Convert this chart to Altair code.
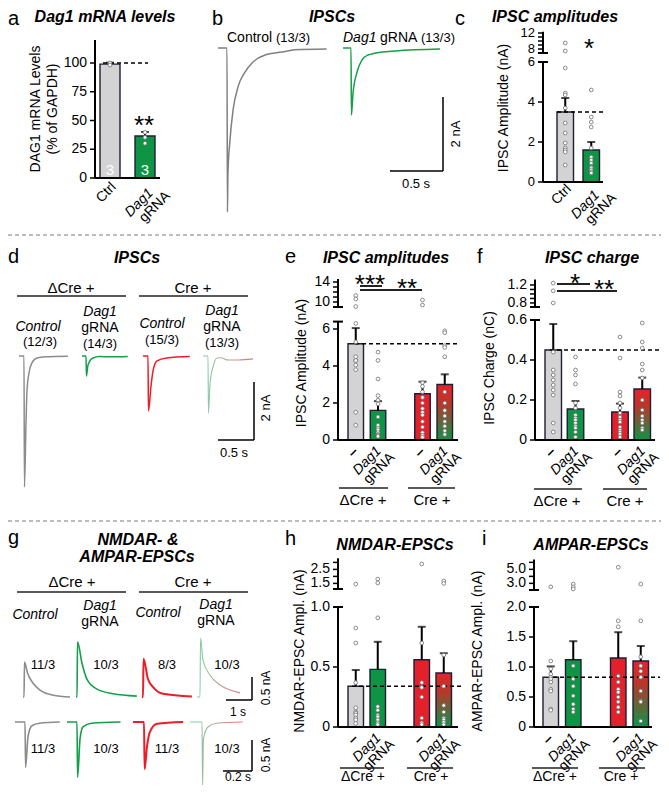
import altair as alt
import pandas as pd

FONT = "Liberation Sans"
ONE = pd.DataFrame({"k": [0]})
G = 8  # page margin: page coordinate -> plot coordinate

GRAY_FILL = "#d3d3d3"
GREEN_FILL = "#0e9445"
RED_FILL = "#e4202a"
EDGE = "#1e1e36"
TR_GRAY = "#8c8c8c"
TR_GREEN = "#13a049"
TR_RED = "#ee1c25"
PT_EDGE = "#707070"

# ---------------- values ----------------
# (a) Dag1 mRNA levels (% of GAPDH)
a_cats = ["Ctrl", "Dag1 gRNA"]
a_mean = [99.0, 36.5]
a_sem_top = [100.3, 40.0]
a_pts_ctrl = [99.0, 100.0, 98.2]
a_pts_grna = [39.7, 35.3, 30.2]
a_n = ["3", "3"]
a_ticks = [0, 25, 50, 75, 100]
a_tick_labels = ["0", "25", "50", "75", "100"]

# (b) IPSC traces, time from onset (s) / current (nA)
b_ctrl_t = [-0.085, 0.0, 0.004, 0.009, 0.028, 0.057, 0.104, 0.17, 0.245, 0.36, 0.52, 0.64, 0.94]
b_ctrl_i = [0.0, 0.0, -4.43, -3.38, -2.49, -1.68, -1.05, -0.65, -0.38, -0.19, -0.11, -0.05, -0.03]
b_grna_t = [-0.075, 0.0, 0.004, 0.019, 0.057, 0.104, 0.16, 0.29, 0.42, 0.84]
b_grna_i = [0.0, 0.0, -1.81, -1.22, -0.65, -0.32, -0.19, -0.11, -0.08, -0.03]

# (c) IPSC amplitudes (nA)
c_cats = ["Ctrl", "Dag1 gRNA"]
c_mean = [3.5, 1.6]
c_sem_top = [4.2, 2.0]
c_pts_ctrl = [9.5, 7.5, 5.7, 4.45, 4.35, 3.7, 2.95, 2.45, 1.95, 1.7, 1.6, 1.5, 0.85]
c_pts_grna = [4.6, 3.25, 3.0, 2.75, 1.7, 1.25, 1.1, 0.95, 0.75, 0.7, 0.6, 0.5, 0.45]
c_ticks = [0, 2, 4, 6, 8, 9, 10, 11, 12]
c_tick_labels = ["0", "2", "4", "6", "8", "", "", "", "12"]

# (d) IPSC traces
d_gray_t = [-0.07, 0.0, 0.006, 0.028, 0.042, 0.069, 0.11, 0.18, 0.3, 0.61]
d_gray_i = [0.0, 0.0, -4.52, -2.31, -1.17, -0.59, -0.24, -0.07, -0.03, -0.01]
d_green_t = [-0.056, 0.0, 0.006, 0.028, 0.097, 0.19, 0.35, 0.58]
d_green_i = [0.0, 0.0, -0.69, -0.31, -0.07, -0.02, -0.03, -0.02]
d_red_t = [-0.07, 0.0, 0.006, 0.042, 0.069, 0.125, 0.26, 0.58]
d_red_i = [0.0, 0.0, -1.9, -1.03, -0.52, -0.17, -0.07, -0.02]
d_grad_t = [-0.07, 0.0, 0.006, 0.028, 0.069, 0.125, 0.18, 0.28, 0.42, 0.625]
d_grad_i = [0.0, 0.0, -1.97, -0.93, -0.38, -0.07, -0.06, -0.14, -0.14, -0.1]

# (g) NMDAR-EPSC traces (s, nA)
gn_gray_t = [-0.04, 0.0, 0.02, 0.135, 0.35, 0.62, 1.12, 1.77]
gn_gray_i = [0.0, 0.0, 0.76, 0.52, 0.30, 0.15, 0.04, 0.0]
gn_green_t = [-0.04, 0.0, 0.02, 0.19, 0.38, 0.77, 1.38, 2.3]
gn_green_i = [0.0, 0.0, 1.2, 0.74, 0.39, 0.17, 0.07, 0.02]
gn_red_t = [-0.04, 0.0, 0.02, 0.19, 0.38, 0.77, 1.88]
gn_red_i = [0.0, 0.0, 0.83, 0.39, 0.22, 0.07, 0.01]
gn_grad_t = [-0.115, 0.0, 0.02, 0.115, 0.38, 0.77, 1.15, 1.54]
gn_grad_i = [0.0, 0.0, 1.28, 0.8, 0.48, 0.26, 0.15, 0.09]
# (g) AMPAR-EPSC traces (s, nA)
ga_gray_t = [-0.069, 0.0, 0.004, 0.021, 0.048, 0.1, 0.24]
ga_gray_i = [0.0, 0.0, -0.73, -0.23, -0.06, -0.02, 0.0]
ga_green_t = [-0.069, 0.0, 0.004, 0.021, 0.041, 0.1, 0.3]
ga_green_i = [0.0, 0.0, -0.89, -0.27, -0.08, -0.02, 0.0]
ga_red_t = [-0.076, 0.0, 0.004, 0.021, 0.041, 0.09, 0.27]
ga_red_i = [0.0, 0.0, -0.76, -0.39, -0.16, -0.03, 0.0]
ga_grad_t = [-0.083, 0.0, 0.004, 0.01, 0.041, 0.1, 0.28]
ga_grad_i = [0.0, 0.0, -1.03, -0.27, -0.08, -0.02, 0.0]

# (e)-(i) groups: ΔCre/–, ΔCre/Dag1 gRNA, Cre/–, Cre/Dag1 gRNA
grp_cats = ["ΔCre –", "ΔCre Dag1 gRNA", "Cre –", "Cre Dag1 gRNA"]

e_mean = [5.2, 1.6, 2.5, 3.0]
e_sem_top = [6.05, 2.1, 3.15, 3.55]
e_pts = [
    [11.3, 10.6, 9.1, 6.3, 5.3, 4.5, 4.3, 4.3, 4.05, 3.8, 1.5, 0.8],
    [4.75, 4.3, 3.3, 2.4, 2.15, 1.95, 1.25, 0.8, 0.65, 0.55, 0.4, 0.3, 0.25, 0.2],
    [10.4, 9.4, 3.1, 2.9, 2.6, 2.3, 2.0, 1.7, 1.5, 1.35, 1.0, 0.7, 0.4, 0.25, 0.15],
    [5.9, 5.8, 5.1, 5.0, 4.5, 2.6, 2.0, 1.6, 1.3, 1.0, 0.75, 0.5, 0.3],
]
e_ticks = [0, 2, 4, 6, 10, 11, 12, 13, 14]
e_tick_labels = ["0", "2", "4", "6", "10", "", "", "", "14"]

f_mean = [0.45, 0.155, 0.14, 0.255]
f_sem_top = [0.58, 0.195, 0.182, 0.312]
f_pts = [
    [1.24, 1.07, 0.8, 0.44, 0.35, 0.325, 0.3, 0.275, 0.25, 0.225, 0.085, 0.04],
    [0.415, 0.35, 0.325, 0.28, 0.185, 0.16, 0.125, 0.11, 0.1, 0.085, 0.07, 0.06, 0.04, 0.015],
    [0.515, 0.41, 0.24, 0.22, 0.185, 0.16, 0.135, 0.115, 0.1, 0.09, 0.065, 0.05, 0.04, 0.03, 0.015],
    [0.585, 0.49, 0.46, 0.38, 0.35, 0.31, 0.2, 0.15, 0.12, 0.1, 0.085, 0.06, 0.05],
]
f_ticks = [0, 0.2, 0.4, 0.6, 0.8, 0.9, 1.0, 1.1, 1.2]
f_tick_labels = ["0", "0.2", "0.4", "0.6", "0.8", "", "", "", "1.2"]

h_mean = [0.34, 0.48, 0.56, 0.45]
h_sem_top = [0.475, 0.71, 0.835, 0.615]
h_pts = [
    [1.45, 0.825, 0.7, 0.37, 0.16, 0.125, 0.115, 0.1, 0.075, 0.06, 0.03],
    [1.81, 1.53, 0.91, 0.17, 0.14, 0.1, 0.085, 0.06, 0.035, 0.02],
    [2.89, 0.7, 0.37, 0.33, 0.25, 0.075, 0.035, 0.02],
    [1.67, 1.5, 0.6, 0.34, 0.18, 0.125, 0.075, 0.06, 0.04, 0.02],
]
h_ticks = [0, 0.5, 1.0, 1.5, 2.0, 2.5, 3.0]
h_tick_labels = ["0", "0.5", "1.0", "1.5", "", "2.5", ""]

i_mean = [0.83, 1.12, 1.15, 1.10]
i_sem_top = [1.01, 1.43, 1.58, 1.35]
i_pts = [
    [2.5, 1.1, 0.97, 0.88, 0.83, 0.8, 0.75, 0.63, 0.6, 0.3, 0.28],
    [2.9, 2.5, 2.2, 1.02, 0.8, 0.68, 0.52, 0.38, 0.3, 0.25],
    [5.3, 1.77, 1.67, 0.85, 0.75, 0.63, 0.58, 0.5, 0.42, 0.33, 0.25],
    [2.9, 1.77, 1.17, 1.02, 0.93, 0.83, 0.6, 0.43, 0.42, 0.1],
]
i_ticks = [0, 0.5, 1.0, 1.5, 2.0, 3.0, 4.0, 5.0, 6.0]
i_tick_labels = ["0", "0.5", "1.0", "1.5", "2.0", "3.0", "", "5.0", ""]

# scale-bar sizes (s, nA)
SB_B = (0.5, 2.0)
SB_D = (0.5, 2.0)
SB_GN = (1.0, 0.5)
SB_GA = (0.2, 0.5)


# ---------------- helpers (positions in page pixels) ----------------
def T(s, px, py, size=14, weight="normal", style="normal", align="center",
      baseline="middle", angle=0, color="black", dx=0, dy=0):
    kw = dict(text=s, font=FONT, fontSize=size, fontWeight=weight, fontStyle=style,
              align=align, baseline=baseline, color=color)
    if angle:
        kw["angle"] = angle
    if dx:
        kw["dx"] = dx
    if dy:
        kw["dy"] = dy
    return alt.Chart(ONE).mark_text(**kw).encode(
        x=alt.value(px - G), y=alt.value(py - G))


def R(x0, x1, y, w=1.5, color="#222222", dash=None):
    kw = dict(color=color, strokeWidth=w)
    if dash:
        kw["strokeDash"] = dash
    return alt.Chart(ONE).mark_rule(**kw).encode(
        x=alt.value(x0 - G), x2=alt.value(x1 - G), y=alt.value(y - G))


def STAR(s, cx, cy, size=26):
    return T(s, cx, cy + 0.57 * size, size=size, baseline="alphabetic")


def LETTER(s, px, py, top=False):
    return T(s, px, py, size=20, align="left", baseline="top" if top else "alphabetic")


def TITLE(s, px, py):
    return T(s, px, py, size=16, weight="bold", style="italic")


def YTITLE(s, px, py):
    return T(s, px, py, size=14, angle=270)


def xlin(pps):
    return alt.Scale(domain=[0, 1], range=[-G, -G + pps], nice=False, zero=False)


def ylin(base, ppn):
    return alt.Scale(domain=[0, 1], range=[base - G, base - G - ppn], nice=False, zero=False)


def trace(t, i, onset_px, pps, xs, ys, color, width=1.4, opacity=1.0):
    t0 = onset_px / pps
    df = pd.DataFrame({"t": [v + t0 for v in t], "i": i})
    return alt.Chart(df).mark_line(stroke=color, strokeWidth=width, opacity=opacity,
                                   interpolate="monotone").encode(
        x=alt.X("t:Q", scale=xs, axis=None), y=alt.Y("i:Q", scale=ys, axis=None))


def scalebar(x_px, y_px, pps, base, ppn, sb, xs, ys):
    dt, di = sb
    t_start = x_px / pps
    i_start = -(y_px - base) / ppn
    hdf = pd.DataFrame({"a": [t_start], "b": [t_start + dt], "y": [i_start]})
    vdf = pd.DataFrame({"x": [t_start + dt], "a": [i_start], "b": [i_start + di]})
    h = alt.Chart(hdf).mark_rule(color="black", strokeWidth=1.5).encode(
        x=alt.X("a:Q", scale=xs, axis=None), x2=alt.X2("b"),
        y=alt.Y("y:Q", scale=ys, axis=None))
    v = alt.Chart(vdf).mark_rule(color="black", strokeWidth=1.5).encode(
        x=alt.X("x:Q", scale=xs, axis=None),
        y=alt.Y("a:Q", scale=ys, axis=None), y2=alt.Y2("b"))
    return [h, v]


GRAD_LINE = alt.Gradient(gradient="linear",
                         stops=[alt.GradientStop(color="#6fcfa3", offset=0),
                                alt.GradientStop(color="#e4676b", offset=1)],
                         x1=0, x2=1, y1=0, y2=0)
GRAD_BAR = alt.Gradient(gradient="linear",
                        stops=[alt.GradientStop(color="#e8222a", offset=0),
                               alt.GradientStop(color="#b8372a", offset=0.35),
                               alt.GradientStop(color="#0c9447", offset=1)],
                        x1=0, x2=0, y1=0, y2=1)


def bar_panel(ax, cats, dom, means, tops, fills, pts, L, S, B, ydom, yrng,
              ticks, tick_labels, segs, caps, base_end, dash, lab_size=14):
    n = len(dom)
    x0 = ax - G
    xs = alt.Scale(domain=dom, range=[x0 + L, x0 + L + (n - 1) * S + B],
                   paddingInner=1 - B / S, paddingOuter=0)
    ys = alt.Scale(domain=ydom, range=[v - G for v in yrng], nice=False, zero=False)

    def X(f):
        return alt.X(f, scale=xs, axis=None)

    def Y(f):
        return alt.Y(f, scale=ys, axis=None)

    bars = pd.DataFrame({"cat": cats, "m": means, "top": tops})
    out = []
    for c, fl in zip(cats, fills):
        out.append(alt.Chart(bars).transform_filter(alt.datum.cat == c)
                   .mark_bar(fill=fl, stroke=EDGE, strokeWidth=1.4)
                   .encode(x=X("cat:N"), y=Y("m:Q")))
    out.append(alt.Chart(bars).mark_rule(color="black", strokeWidth=2)
               .encode(x=X("cat:N"), y=Y("m:Q"), y2=alt.Y2("top")))
    out.append(alt.Chart(bars).mark_tick(color="black", thickness=2, size=8)
               .encode(x=X("cat:N"), y=Y("top:Q")))
    dv, dx0, dx1 = dash
    out.append(alt.Chart(pd.DataFrame({"v": [dv]}))
               .mark_rule(color="black", strokeWidth=1.6, strokeDash=[4, 3])
               .encode(y=Y("v:Q"), x=alt.value(dx0 - G), x2=alt.value(dx1 - G)))
    rows = [(c, v) for c, vs in zip(cats, pts) for v in vs]
    pdf = pd.DataFrame(rows, columns=["cat", "v"])
    out.append(alt.Chart(pdf).mark_circle(size=14, fill="white", stroke=PT_EDGE,
                                          strokeWidth=0.8, opacity=1)
               .encode(x=X("cat:N"), y=Y("v:Q")))
    # x baseline
    out.append(alt.Chart(pd.DataFrame({"z": [0.0]})).mark_rule(color="black", strokeWidth=2)
               .encode(y=Y("z:Q"), x=alt.value(x0), x2=alt.value(x0 + base_end)))
    # y axis line (possibly broken)
    sdf = pd.DataFrame({"lo": [s[0] for s in segs], "hi": [s[1] for s in segs]})
    out.append(alt.Chart(sdf).mark_rule(color="black", strokeWidth=2)
               .encode(x=alt.value(x0), y=Y("lo:Q"), y2=alt.Y2("hi")))
    if caps:
        cdf = pd.DataFrame({"v": caps})
        out.append(alt.Chart(cdf).mark_rule(color="black", strokeWidth=2)
                   .encode(y=Y("v:Q"), x=alt.value(x0 - 5), x2=alt.value(x0 + 5)))
    tdf = pd.DataFrame({"v": ticks, "lab": tick_labels})
    out.append(alt.Chart(tdf).mark_rule(color="black", strokeWidth=1.5)
               .encode(y=Y("v:Q"), x=alt.value(x0 - 5), x2=alt.value(x0)))
    out.append(alt.Chart(tdf).mark_text(font=FONT, fontSize=lab_size, align="right",
                                        baseline="middle", color="black")
               .encode(y=Y("v:Q"), text="lab:N", x=alt.value(x0 - 8)))
    centers = {c: ax + L + dom.index(c) * S + B / 2 for c in cats}
    return out, centers, yrng[0]


def grp_xlabels(cx, base):
    out = []
    for c, x in cx.items():
        if c.endswith("–"):
            out.append(T("–", x - 3, base + 12, size=15, weight="bold", angle=315))
        else:
            out.append(T("Dag1", x + 1, base + 9, style="italic", align="right", angle=315))
            out.append(T("gRNA", x + 1, base + 9, align="right", angle=315, dx=5, dy=14))
    return out


def two_xlabels(cx, base, dc, dd):
    x0, x1 = list(cx.values())
    return [
        T("Ctrl", x0 + 4, base + dc, align="right", angle=315),
        T("Dag1", x1 + 6, base + dd, style="italic", align="right", angle=315),
        T("gRNA", x1 + 6, base + dd, align="right", angle=315, dx=10, dy=14),
    ]


GRP_DOM = [grp_cats[0], grp_cats[1], " ", grp_cats[2], grp_cats[3]]
GRP_FILLS = [GRAY_FILL, GREEN_FILL, RED_FILL, GRAD_BAR]

panels = []

# ---------------- (a) ----------------
A, cxA, bA = bar_panel(95, a_cats, a_cats, a_mean, a_sem_top, [GRAY_FILL, GREEN_FILL],
                       [a_pts_ctrl, a_pts_grna], 5, 35, 20, [0, 120], [178, 40],
                       a_ticks, a_tick_labels, [(0, 120)], None, 65, (100, 103, 148))
A += two_xlabels(cxA, bA, 7, 13)
A += [T(n_, cxA[c], 170, size=15, color="white") for c, n_ in zip(a_cats, a_n)]
A += [LETTER("a", 8, 9, top=True), TITLE("Dag1 mRNA levels", 105, 17),
      YTITLE("DAG1 mRNA Levels", 36, 109), YTITLE("(% of GAPDH)", 53, 109),
      STAR("**", 144, 119),
      R(8, 661, 235, w=1, color="#7a7a7a", dash=[4, 3]),
      R(8, 661, 521, w=1, color="#7a7a7a", dash=[4, 3])]
panels.append(alt.layer(*A))

# ---------------- (b) ----------------
xsB, ysB = xlin(106), ylin(48, 37)
Bl = [trace(b_ctrl_t, b_ctrl_i, 227, 106, xsB, ysB, "#808080", 1.5),
      trace(b_grna_t, b_grna_i, 351, 106, xsB, ysB, TR_GREEN, 1.5)]
Bl += scalebar(390, 171, 106, 48, 37, SB_B, xsB, ysB)
Bl += [LETTER("b", 212, 9, top=True), TITLE("IPSCs", 332, 17),
       T("Control", 227, 38, align="left"),
       T("(13/3)", 276, 38, size=13, align="left"),
       T("Dag1", 343, 38, style="italic", align="left"),
       T("gRNA", 380, 38, align="left"),
       T("(13/3)", 421, 38, size=13, align="left"),
       T("0.5 s", 416, 184, size=13),
       T("2 nA", 456, 134, size=13, angle=270)]
panels.append(alt.layer(*Bl))

# ---------------- (c) ----------------
C, cxC, bC = bar_panel(543, c_cats, c_cats, c_mean, c_sem_top, [GRAY_FILL, GREEN_FILL],
                       [c_pts_ctrl, c_pts_grna], 14, 26, 16.5, [0, 6, 7, 12], [182, 62, 53, 33],
                       c_ticks, c_tick_labels, [(0, 6), (7, 12.3)], [6, 7], 60, (3.5, 557, 605),
                       lab_size=13)
C += two_xlabels(cxC, bC, 5, 11)
C += [LETTER("c", 455, 9, top=True), TITLE("IPSC amplitudes", 555, 17),
      YTITLE("IPSC Amplitude (nA)", 504, 108), STAR("*", 589, 42)]
panels.append(alt.layer(*C))

# ---------------- (d) ----------------
xsD, ysD = xlin(72), ylin(356, 29)
Dl = [trace(d_gray_t, d_gray_i, 24, 72, xsD, ysD, TR_GRAY, 1.5),
      trace(d_green_t, d_green_i, 86, 72, xsD, ysD, TR_GREEN, 1.5),
      trace(d_red_t, d_red_i, 148, 72, xsD, ysD, TR_RED, 1.5),
      trace(d_grad_t, d_grad_i, 208, 72, xsD, ysD, GRAD_LINE, 1.1, 0.9)]
Dl += scalebar(218, 440, 72, 356, 29, SB_D, xsD, ysD)
Dl += [LETTER("d", 8, 263), TITLE("IPSCs", 137, 258),
       T("ΔCre +", 71, 288, size=15), R(17, 126, 296),
       T("Cre +", 193, 288, size=15), R(139, 248, 296),
       T("Control", 38, 327, style="italic"), T("(12/3)", 40, 342, size=13),
       T("Dag1", 100, 312, style="italic"), T("gRNA", 100, 328),
       T("(14/3)", 100, 344, size=13),
       T("Control", 162, 324, style="italic"), T("(15/3)", 162, 340, size=13),
       T("Dag1", 222, 311, style="italic"), T("gRNA", 222, 327),
       T("(13/3)", 222, 343, size=13),
       T("0.5 s", 234, 453, size=13), T("2 nA", 266, 408, size=13, angle=270)]
panels.append(alt.layer(*Dl))

# ---------------- (e) ----------------
E, cxE, bE = bar_panel(338, grp_cats, GRP_DOM, e_mean, e_sem_top, GRP_FILLS, e_pts,
                       10, 22.25, 15.5, [0, 6.4, 9, 14.4], [440, 321.6, 307, 280],
                       e_ticks, e_tick_labels, [(0, 6.4), (9, 14.6)], [6.4, 9], 120,
                       (5.2, 355, 460))
E += grp_xlabels(cxE, bE)
E += [LETTER("e", 285, 263), TITLE("IPSC amplitudes", 386, 258),
      YTITLE("IPSC Amplitude (nA)", 302, 363),
      STAR("***", 370, 278), R(360, 382, 286, w=2),
      STAR("**", 407, 282), R(360, 422, 290, w=2),
      R(339, 388, 488), T("ΔCre +", 363, 500, size=15),
      R(408, 455, 488), T("Cre +", 432, 500, size=15)]
panels.append(alt.layer(*E))

# ---------------- (f) ----------------
F, cxF, bF = bar_panel(535, grp_cats, GRP_DOM, f_mean, f_sem_top, GRP_FILLS, f_pts,
                       10, 22.25, 16.5, [0, 0.6, 0.71, 1.31], [440, 320, 307, 280],
                       f_ticks, f_tick_labels, [(0, 0.6), (0.71, 1.32)], [0.6, 0.71], 120,
                       (0.45, 550, 661))
F += grp_xlabels(cxF, bF)
F += [LETTER("f", 477, 263), TITLE("IPSC charge", 592, 258),
      YTITLE("IPSC Charge (nC)", 490, 368),
      STAR("*", 575, 277), R(557, 590, 284, w=2),
      STAR("**", 604, 283), R(557, 617, 291, w=2),
      R(534, 582, 489), T("ΔCre +", 557, 501, size=15),
      R(603, 647, 489), T("Cre +", 625, 501, size=15)]
panels.append(alt.layer(*F))

# ---------------- (g) ----------------
xsGN, ysGN = xlin(26), ylin(697, 46)
xsGA, ysGA = xlin(145), ylin(722, 62)
GN = [trace(gn_gray_t, gn_gray_i, 24, 26, xsGN, ysGN, TR_GRAY, 1.6),
      trace(gn_green_t, gn_green_i, 77, 26, xsGN, ysGN, TR_GREEN, 1.6),
      trace(gn_red_t, gn_red_i, 143, 26, xsGN, ysGN, TR_RED, 2.0),
      trace(gn_grad_t, gn_grad_i, 200, 26, xsGN, ysGN, GRAD_LINE, 1.1, 0.9)]
GN += scalebar(226, 700, 26, 697, 46, SB_GN, xsGN, ysGN)
GN += [LETTER("g", 8, 544),
       TITLE("NMDAR- &", 138, 540), TITLE("AMPAR-EPSCs", 137, 557),
       T("ΔCre +", 72, 582, size=15), R(17, 126, 592),
       T("Cre +", 193, 582, size=15), R(139, 248, 592),
       T("Control", 35, 615, style="italic"),
       T("Dag1", 100, 606, style="italic"), T("gRNA", 100, 622),
       T("Control", 158, 613, style="italic"),
       T("Dag1", 216, 605, style="italic"), T("gRNA", 216, 621),
       T("11/3", 43, 665, size=13), T("10/3", 106, 665, size=13),
       T("8/3", 167, 665, size=13), T("10/3", 227, 665, size=13),
       T("1 s", 238, 712, size=12), T("0.5 nA", 266, 688, size=12, angle=270)]
panels.append(alt.layer(*GN))
GA = [trace(ga_gray_t, ga_gray_i, 25, 145, xsGA, ysGA, TR_GRAY, 1.6),
      trace(ga_green_t, ga_green_i, 77, 145, xsGA, ysGA, TR_GREEN, 1.6),
      trace(ga_red_t, ga_red_i, 144, 145, xsGA, ysGA, TR_RED, 2.0),
      trace(ga_grad_t, ga_grad_i, 202, 145, xsGA, ysGA, GRAD_LINE, 1.1, 0.9)]
GA += scalebar(223, 771, 145, 722, 62, SB_GA, xsGA, ysGA)
GA += [T("11/3", 43, 749, size=13), T("10/3", 106, 749, size=13),
       T("11/3", 167, 749, size=13), T("10/3", 227, 749, size=13),
       T("0.2 s", 238, 777, size=12), T("0.5 nA", 266, 755, size=12, angle=270)]
panels.append(alt.layer(*GA))

# ---------------- (h) ----------------
H, cxH, bH = bar_panel(338, grp_cats, GRP_DOM, h_mean, h_sem_top, GRP_FILLS, h_pts,
                       10, 22, 15.5, [0, 1.0, 1.1, 3.25], [727, 607, 589, 558.9],
                       h_ticks, h_tick_labels, [(0, 1.0), (1.1, 3.3)], [1.0, 1.1], 120,
                       (0.34, 352, 462))
H += grp_xlabels(cxH, bH)
H += [LETTER("h", 285, 545), TITLE("NMDAR-EPSCs", 395, 545),
      YTITLE("NMDAR-EPSC Ampl. (nA)", 300, 651),
      R(340, 384, 768), T("ΔCre +", 363, 777, size=14),
      R(407, 453, 768), T("Cre +", 431, 777, size=14)]
panels.append(alt.layer(*H))

# ---------------- (i) ----------------
I, cxI, bI = bar_panel(534, grp_cats, GRP_DOM, i_mean, i_sem_top, GRP_FILLS, i_pts,
                       9, 22.5, 15.5, [0, 2.0, 2.05, 6.3], [727, 607, 590, 560.25],
                       i_ticks, i_tick_labels, [(0, 2.0), (2.05, 6.4)], [2.0, 2.05], 118,
                       (0.83, 553, 660))
I += grp_xlabels(cxI, bI)
I += [LETTER("i", 482, 545), TITLE("AMPAR-EPSCs", 591, 545),
      YTITLE("AMPAR-EPSC Ampl. (nA)", 478, 651),
      R(532, 578, 768), T("ΔCre +", 555, 777, size=14),
      R(599, 645, 768), T("Cre +", 621, 777, size=14)]
panels.append(alt.layer(*I))

chart = (alt.layer(*panels)
         .resolve_scale(x="independent", y="independent")
         .properties(width=653, height=777, padding=0,
                     autosize=alt.AutoSizeParams(type="none"))
         .configure(font=FONT)
         .configure_view(stroke=None))

chart.save("out.html", embed_options={"renderer": "svg", "actions": False})
